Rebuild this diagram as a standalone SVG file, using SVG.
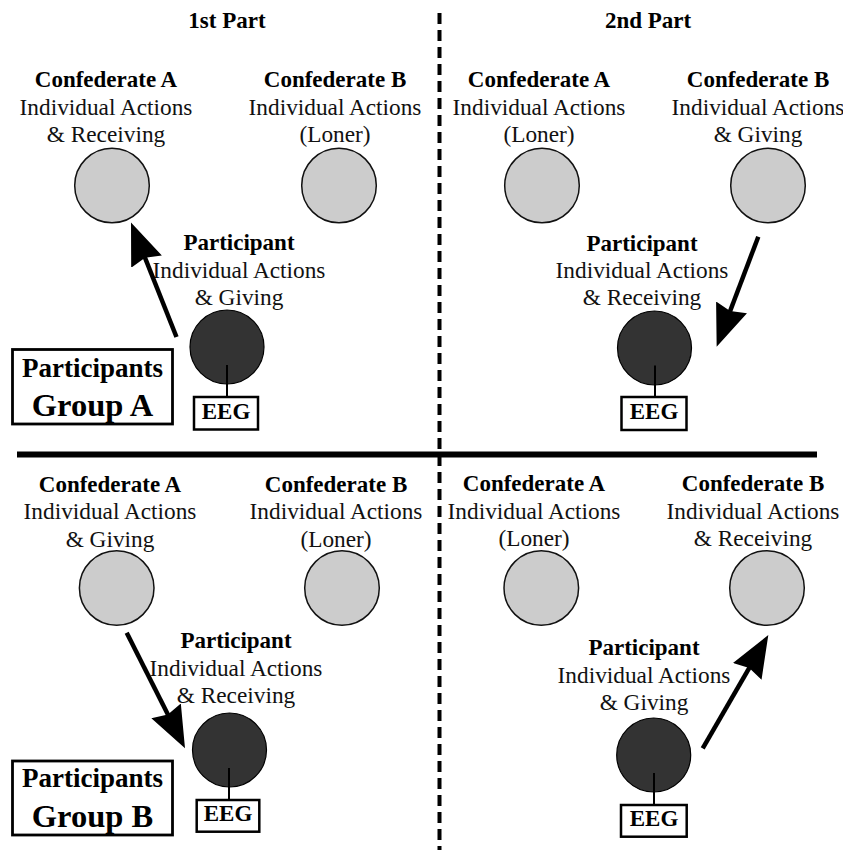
<svg xmlns="http://www.w3.org/2000/svg" width="843" height="850" viewBox="0 0 843 850">
<style>
  text { font-family: "Liberation Serif", "Times New Roman", serif; text-anchor: middle; fill: #111; }
  .b { font-weight: bold; font-size: 23px; fill: #000; }
  .r { font-size: 23.3px; }
  .eeg { font-weight: bold; font-size: 23px; fill: #000; }
  .gp1 { font-weight: bold; font-size: 27px; fill: #000; }
  .gp2 { font-weight: bold; font-size: 32.5px; fill: #000; }
  .conf { fill: #cccccc; stroke: #111; stroke-width: 1.5; }
  .part { fill: #333333; stroke: #000; stroke-width: 1.2; }
  .box { fill: #fff; stroke: #000; stroke-width: 2.5; }
  .gbox { fill: #fff; stroke: #000; stroke-width: 2.8; }
  .stem { stroke: #000; stroke-width: 2; }
  .arrow { stroke: #000; stroke-width: 4.5; fill: none; marker-end: url(#head); }
  .divv { stroke: #000; stroke-width: 4; stroke-dasharray: 11 6; }
  .divh { stroke: #000; stroke-width: 6; }
</style>
<defs>
  <marker id="head" markerUnits="userSpaceOnUse" markerWidth="44" markerHeight="36" viewBox="0 0 44 36" refX="32" refY="18" orient="auto">
    <path d="M0,1.5 L42,18 L0,34.5 L4,18 z" fill="#000"/>
  </marker>
</defs>
<rect width="843" height="850" fill="#fff"/>

<g id="dividers">
  <line class="divv" x1="439.5" y1="13" x2="439.5" y2="850"/>
  <line class="divh" x1="17" y1="454.5" x2="817" y2="454.5"/>
</g>

<text id="header-1" class="b" x="227" y="28">1st Part</text>
<text id="header-2" class="b" x="648" y="28">2nd Part</text>

<!-- Top-left quadrant -->
<g id="tl-confA">
  <text class="b" x="106" y="87">Confederate A</text>
  <text class="r" x="106" y="114.5">Individual Actions</text>
  <text class="r" x="106" y="142">&amp; Receiving</text>
  <circle class="conf" cx="112" cy="185.5" r="37.3"/>
</g>
<g id="tl-confB">
  <text class="b" x="335" y="87">Confederate B</text>
  <text class="r" x="335" y="114.5">Individual Actions</text>
  <text class="r" x="335" y="142">(Loner)</text>
  <circle class="conf" cx="339" cy="185.5" r="37.3"/>
</g>
<g id="tl-participant">
  <text class="b" x="239" y="250">Participant</text>
  <text class="r" x="239" y="278">Individual Actions</text>
  <text class="r" x="239" y="305">&amp; Giving</text>
  <circle class="part" cx="227" cy="347" r="37"/>
  <line class="stem" x1="227" y1="365" x2="227" y2="397"/>
  <rect class="box" x="194" y="397" width="64" height="32.5"/>
  <text class="eeg" x="226" y="419">EEG</text>
</g>
<g id="group-a">
  <rect class="gbox" x="12.5" y="349.5" width="160" height="74.5"/>
  <text class="gp1" x="92.5" y="377">Participants</text>
  <text class="gp2" x="92.5" y="416">Group A</text>
</g>

<!-- Top-right quadrant -->
<g id="tr-confA">
  <text class="b" x="539" y="87">Confederate A</text>
  <text class="r" x="539" y="114.5">Individual Actions</text>
  <text class="r" x="539" y="142">(Loner)</text>
  <circle class="conf" cx="542" cy="185.5" r="37.3"/>
</g>
<g id="tr-confB">
  <text class="b" x="758" y="87">Confederate B</text>
  <text class="r" x="758" y="114.5">Individual Actions</text>
  <text class="r" x="758" y="142">&amp; Giving</text>
  <circle class="conf" cx="768" cy="185.5" r="37.3"/>
</g>
<g id="tr-participant">
  <text class="b" x="642" y="250.5">Participant</text>
  <text class="r" x="642" y="278">Individual Actions</text>
  <text class="r" x="642" y="305">&amp; Receiving</text>
  <circle class="part" cx="654.5" cy="348" r="37"/>
  <line class="stem" x1="655" y1="365.5" x2="655" y2="397"/>
  <rect class="box" x="621.5" y="397" width="65" height="33"/>
  <text class="eeg" x="654" y="419">EEG</text>
</g>

<!-- Bottom-left quadrant -->
<g id="bl-confA">
  <text class="b" x="110" y="491.5">Confederate A</text>
  <text class="r" x="110" y="519">Individual Actions</text>
  <text class="r" x="110" y="546.5">&amp; Giving</text>
  <circle class="conf" cx="116.7" cy="588" r="37.3"/>
</g>
<g id="bl-confB">
  <text class="b" x="336" y="491.5">Confederate B</text>
  <text class="r" x="336" y="519">Individual Actions</text>
  <text class="r" x="336" y="546.5">(Loner)</text>
  <circle class="conf" cx="342" cy="588" r="37.3"/>
</g>
<g id="bl-participant">
  <text class="b" x="236" y="648">Participant</text>
  <text class="r" x="236" y="676">Individual Actions</text>
  <text class="r" x="236" y="703">&amp; Receiving</text>
  <circle class="part" cx="229.5" cy="750" r="37"/>
  <line class="stem" x1="229" y1="768" x2="229" y2="800"/>
  <rect class="box" x="196.7" y="800" width="62.6" height="31.7"/>
  <text class="eeg" x="228" y="821">EEG</text>
</g>
<g id="group-b">
  <rect class="gbox" x="12.5" y="761" width="160" height="74"/>
  <text class="gp1" x="92.5" y="787">Participants</text>
  <text class="gp2" x="92.5" y="826.5">Group B</text>
</g>

<!-- Bottom-right quadrant -->
<g id="br-confA">
  <text class="b" x="534" y="491">Confederate A</text>
  <text class="r" x="534" y="518.5">Individual Actions</text>
  <text class="r" x="534" y="546">(Loner)</text>
  <circle class="conf" cx="541.3" cy="588" r="37.3"/>
</g>
<g id="br-confB">
  <text class="b" x="753" y="491">Confederate B</text>
  <text class="r" x="753" y="518.5">Individual Actions</text>
  <text class="r" x="753" y="546">&amp; Receiving</text>
  <circle class="conf" cx="767" cy="588" r="37.3"/>
</g>
<g id="br-participant">
  <text class="b" x="644" y="655">Participant</text>
  <text class="r" x="644" y="682.5">Individual Actions</text>
  <text class="r" x="644" y="710">&amp; Giving</text>
  <circle class="part" cx="653.7" cy="755" r="37"/>
  <line class="stem" x1="654" y1="773" x2="654" y2="805"/>
  <rect class="box" x="621" y="805" width="65.7" height="31.7"/>
  <text class="eeg" x="654" y="826">EEG</text>
</g>

<g id="connectors">
  <line class="arrow" x1="176.5" y1="337" x2="134.7" y2="231.8"/>
  <line class="arrow" x1="758.3" y1="236.7" x2="720.2" y2="337.3"/>
  <line class="arrow" x1="126.7" y1="632.7" x2="180.5" y2="739.4"/>
  <line class="arrow" x1="702.7" y1="748.3" x2="763.3" y2="643.7"/>
</g>
</svg>
